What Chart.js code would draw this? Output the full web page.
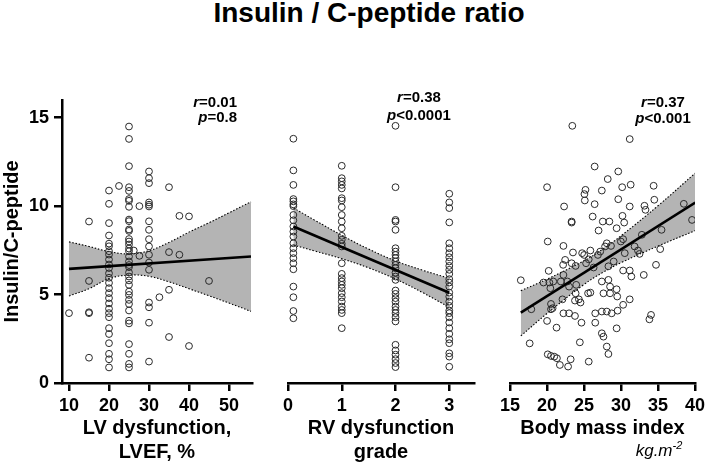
<!DOCTYPE html>
<html>
<head>
<meta charset="utf-8">
<script src="https://cdn.jsdelivr.net/npm/chart.js@4.4.0/dist/chart.umd.min.js"></script>
<style>
html,body{margin:0;padding:0;background:#fff;}
#wrap{position:relative;width:709px;height:476px;overflow:hidden;background:#fff;}
canvas{position:absolute;top:0;}
#title{position:absolute;top:-1px;left:369px;transform:translateX(-50%);font-family:"Liberation Sans",Arial,sans-serif;font-weight:bold;font-size:28px;line-height:28px;white-space:nowrap;color:#000;}
</style>
</head>
<body>
<div id="wrap">
<div id="title">Insulin / C-peptide ratio</div>
<canvas id="c1" style="left:0px" width="262" height="476"></canvas>
<canvas id="c2" style="left:270px" width="214" height="476"></canvas>
<canvas id="c3" style="left:490px" width="219" height="476"></canvas>
</div>
<script>
// ---------- data ----------
const yTicks = [0, 5, 10, 15];
const lvefTicks = [10, 20, 30, 40, 50];
const rvTicks = [0, 1, 2, 3];
const bmiTicks = [15, 20, 25, 30, 35, 40];

// Panel 1: LVEF (%) levels and ratio values at each level
const lvefLevels = [10, 15, 20, 22.5, 25, 26.2, 27.6, 30, 32.6, 35, 37.6, 40, 45];
const lvefValues = [
  [3.95],
  [9.13, 5.77, 4.0, 3.95, 1.43],
  [10.88, 10.13, 9.04, 8.34, 7.88, 7.73, 7.45, 7.26, 6.98, 6.7, 6.5, 6.2, 5.95, 5.66, 5.36, 5.08, 4.8, 4.5, 4.2, 3.95, 3.72, 3.1, 2.77, 2.25, 1.65, 1.34, 0.88],
  [11.14],
  [14.5, 13.8, 12.26, 11.07, 10.86, 10.4, 10.3, 9.96, 9.24, 9.15, 8.68, 8.6, 8.14, 8.0, 7.83, 7.6, 7.45, 7.15, 6.87, 6.67, 6.55, 6.25, 6.02, 5.8, 5.55, 5.17, 4.98, 4.7, 4.47, 4.1, 3.52, 3.37, 2.2, 1.65, 1.08, 0.88],
  [7.49],
  [10.0, 7.19],
  [11.96, 11.58, 11.3, 10.21, 10.08, 9.98, 9.14, 8.66, 8.13, 7.72, 7.25, 6.81, 6.4, 4.55, 4.28, 3.41, 1.21],
  [4.85],
  [11.07, 7.4, 5.27, 2.6],
  [9.45, 7.25],
  [9.42, 2.09],
  [5.77]
];
const lvefFitX = [10, 55.5];
const lvefFitY = [6.45, 7.15];
const lvefBandX = [10, 15, 20, 25, 30, 35, 40, 45, 50, 55.5];
const lvefBandUpper = [7.98, 7.72, 7.43, 7.3, 7.48, 7.95, 8.53, 9.06, 9.62, 10.25];
const lvefBandLower = [4.92, 5.33, 5.9, 6.1, 6.03, 5.72, 5.33, 4.93, 4.52, 4.05];

// Panel 2: RV dysfunction grade
const rvLevels = [0.1, 1, 2, 3];
const rvValues = [
  [13.81, 12.02, 11.2, 10.4, 10.27, 10.1, 10.0, 9.5, 9.2, 8.85, 8.56, 8.28, 7.9, 7.62, 7.34, 7.06, 6.77, 6.43, 5.45, 4.85, 4.07, 3.66],
  [12.28, 11.58, 11.4, 11.2, 11.0, 10.45, 10.32, 9.94, 9.5, 9.13, 8.75, 8.32, 8.1, 7.87, 7.72, 6.77, 6.17, 5.93, 5.74, 5.55, 5.36, 5.08, 4.85, 4.61, 4.32, 4.13, 3.95, 3.1],
  [14.54, 11.07, 9.22, 9.13, 8.66, 7.62, 7.43, 7.24, 7.06, 6.87, 6.68, 6.49, 6.24, 6.02, 5.83, 5.23, 5.04, 4.8, 4.6, 4.32, 4.13, 3.95, 3.72, 3.48, 2.16, 1.84, 1.6, 1.35, 1.13, 0.9],
  [10.7, 10.21, 9.89, 9.08, 7.9, 7.62, 7.34, 7.11, 6.87, 6.62, 6.4, 6.17, 5.87, 5.68, 5.45, 5.11, 4.88, 4.6, 4.36, 4.1, 3.95, 3.72, 3.42, 3.1, 2.78, 2.47, 2.25, 1.68, 1.49, 0.92]
];
const rvFitX = [0.1, 3];
const rvFitY = [8.85, 5.1];
const rvBandX = [0.1, 0.5, 1, 1.5, 2, 2.5, 3];
const rvBandUpper = [9.9, 9.2, 8.35, 7.57, 6.9, 6.38, 5.92];
const rvBandLower = [7.8, 7.46, 7.03, 6.51, 5.88, 5.12, 4.28];

// Panel 3: Body mass index
const bmiX = [23.42,31.18,26.44,29.63,28.21,20.01,25.2,25.06,27.41,30.16,31.31,34.41,22.31,25.11,26.44,29.63,31.18,34.5,33.17,33.31,23.33,23.33,26.17,27.54,28.43,30.2,30.43,29.41,26.97,38.49,39.6,35.48,32.82,30.29,29.98,20.1,22.22,23.51,24.75,25.86,27.19,27.85,28.08,28.65,30.51,31.84,32.29,32.51,35.3,22.45,23.33,23.87,25.02,25.28,25.64,26.3,26.88,28.3,29.01,30.29,31.18,33.08,34.73,31.4,20.23,22.18,16.46,19.52,20.32,20.85,21.87,22.76,20.45,22.22,22.98,23.95,25.55,25.86,27.41,28.3,28.52,29.41,27.63,28.52,29.49,31.18,23.87,24.31,23.78,24.53,17.88,20.54,20.54,20.76,22.09,22.22,22.98,23.78,26.52,27.41,28.08,28.74,29.54,30.29,34.06,33.84,20.01,21.29,24.66,26.52,29.41,27.41,27.63,17.66,24.44,28.08,28.3,20.1,20.54,20.98,21.34,21.74,22.85,23.2,25.64];
const bmiY = [14.54,13.79,12.24,11.96,11.53,11.07,10.92,10.68,10.88,11.07,11.21,11.15,9.98,10.32,10.11,10.39,9.98,10.36,10.02,9.79,9.07,9.13,9.41,9.13,9.13,9.45,9.07,8.75,8.62,10.13,9.22,8.66,8.38,8.13,8.0,8.0,7.75,7.38,7.34,7.49,7.43,7.72,7.9,7.75,7.34,7.72,7.49,7.3,7.57,6.96,6.77,6.62,7.24,6.77,6.99,6.53,7.24,6.6,6.87,6.36,6.36,6.11,6.68,6.02,6.34,6.68,5.81,5.68,5.68,5.74,5.74,5.74,5.36,6.11,5.45,5.55,5.07,5.11,5.74,5.83,5.45,5.3,5.07,5.07,4.89,4.73,5.07,4.73,4.66,4.55,4.17,4.47,4.17,4.23,4.73,3.94,3.94,3.79,3.94,4.04,4.04,3.94,4.09,4.42,3.85,3.6,3.51,3.13,3.41,3.41,3.09,2.81,2.62,2.24,2.3,2.06,1.64,1.62,1.53,1.49,1.4,1.02,0.93,1.34,1.21];
const bmiFitX = [16.46, 40.04];
const bmiFitY = [3.98, 10.2];
const bmiBandX = [16.46, 20, 25, 27.5, 30, 35, 40.04];
const bmiBandUpper = [5.22, 5.87, 6.91, 7.56, 8.32, 10.02, 11.87];
const bmiBandLower = [2.66, 3.93, 5.57, 6.24, 6.8, 7.74, 8.62];

// ---------- helpers ----------
const FONT = "'Liberation Sans', Arial, Helvetica, sans-serif";
Chart.defaults.font.family = FONT;
Chart.defaults.color = '#000';

function pairs(xs, ys) { return xs.map((x, i) => ({ x: x, y: ys[i] })); }
function grouped(levels, values) {
  const out = [];
  levels.forEach((lv, i) => values[i].forEach(v => out.push({ x: lv, y: v })));
  return out;
}

const annotPlugin = {
  id: 'annot',
  afterDraw(chart, args, opts) {
    const ctx = chart.ctx;
    const off = opts.offset || 0;
    ctx.save();
    ctx.fillStyle = '#000';
    ctx.textBaseline = 'alphabetic';
    (opts.lines || []).forEach(line => {
      let w = 0;
      line.parts.forEach(p => { ctx.font = p.font; p.w = ctx.measureText(p.t).width; w += p.w; });
      let x = (line.align === 'right' ? line.x - w : line.align === 'center' ? line.x - w / 2 : line.x) - off;
      line.parts.forEach(p => { ctx.font = p.font; ctx.fillText(p.t, x, line.y + (p.dy || 0)); x += p.w; });
    });
    ctx.restore();
  }
};

const BI = "italic bold 15px " + FONT;
const B = "bold 15px " + FONT;

function xScale(min, max, ticks, title) {
  return {
    type: 'linear', min: min, max: max,
    afterBuildTicks: s => { s.ticks = ticks.map(v => ({ value: v })); },
    afterFit: s => { s.height = 93; },
    border: { display: true, color: '#000', width: 2.5 },
    grid: { display: true, drawOnChartArea: false, drawTicks: true, tickLength: 8, color: '#000', lineWidth: 2.5 },
    ticks: { color: '#000', font: { family: FONT, size: 18, weight: 'bold' }, padding: 4, maxRotation: 0, autoSkip: false },
    title: { display: true, text: title, color: '#000', font: { family: FONT, size: 20, weight: 'bold', lineHeight: 1.2 }, padding: { top: 0, bottom: 12 } }
  };
}
function yScale(show) {
  if (!show) return { type: 'linear', min: 0, max: 16, display: false };
  return {
    type: 'linear', min: 0, max: 16,
    afterBuildTicks: s => { s.ticks = yTicks.map(v => ({ value: v })); },
    afterFit: s => { s.width = 62; },
    border: { display: true, color: '#000', width: 2.5 },
    grid: { display: true, drawOnChartArea: false, drawTicks: true, tickLength: 8, color: '#000', lineWidth: 2.5 },
    ticks: { color: '#000', font: { family: FONT, size: 18, weight: 'bold' }, padding: 5 },
    title: { display: true, text: 'Insulin/C-peptide', color: '#000', font: { family: FONT, size: 20, weight: 'bold', lineHeight: 1.2 }, padding: { top: 0, bottom: 0 } }
  };
}
function datasets(points, fitX, fitY, bandX, bandU, bandL) {
  return [
    { type: 'line', data: pairs(fitX, fitY), borderColor: '#000', borderWidth: 2.6, pointRadius: 0, fill: false, order: 0 },
    { type: 'scatter', data: points, pointRadius: 3.4, pointStyle: 'circle', borderColor: '#2a2a2a', backgroundColor: 'rgba(0,0,0,0)', borderWidth: 1, order: 1 },
    { type: 'line', data: pairs(bandX, bandL), borderColor: '#000', borderWidth: 1.1, borderDash: [1.5, 1.8], pointRadius: 0, fill: false, tension: 0.4, order: 3 },
    { type: 'line', data: pairs(bandX, bandU), borderColor: '#000', borderWidth: 1.1, borderDash: [1.5, 1.8], pointRadius: 0, fill: '-1', backgroundColor: '#b4b4b4', tension: 0.4, order: 2 }
  ];
}
function makeChart(id, offset, padding, xs, showY, ds, annLines) {
  return new Chart(document.getElementById(id), {
    type: 'scatter',
    data: { datasets: ds },
    options: {
      responsive: false, animation: false, devicePixelRatio: 1,
      layout: { padding: padding },
      scales: { x: xs, y: yScale(showY) },
      plugins: {
        legend: { display: false }, tooltip: { enabled: false }, title: { display: false },
        filler: { drawTime: 'beforeDatasetsDraw' },
        annot: { offset: offset, lines: annLines }
      }
    },
    plugins: [annotPlugin]
  });
}

makeChart('c1', 0, { left: 0, right: 10, top: 100, bottom: 0 },
  xScale(8.25, 55.75, lvefTicks, ['LV dysfunction,', 'LVEF, %']), true,
  datasets(grouped(lvefLevels, lvefValues), lvefFitX, lvefFitY, lvefBandX, lvefBandUpper, lvefBandLower),
  [
    { x: 237, y: 106.5, align: 'right', parts: [{ t: 'r', font: BI }, { t: '=0.01', font: B }] },
    { x: 237, y: 121.5, align: 'right', parts: [{ t: 'p', font: BI }, { t: '=0.8', font: B }] }
  ]);

makeChart('c2', 270, { left: 18, right: 10, top: 100, bottom: 0 },
  xScale(0, 3.46, rvTicks, ['RV dysfunction', 'grade']), false,
  datasets(grouped(rvLevels, rvValues), rvFitX, rvFitY, rvBandX, rvBandUpper, rvBandLower),
  [
    { x: 419, y: 101.5, align: 'center', parts: [{ t: 'r', font: BI }, { t: '=0.38', font: B }] },
    { x: 419, y: 120, align: 'center', parts: [{ t: 'p', font: BI }, { t: '<0.0001', font: B }] }
  ]);

makeChart('c3', 490, { left: 20, right: 11, top: 100, bottom: 0 },
  xScale(15, 40, bmiTicks, ['Body mass index', ' ']), false,
  datasets(pairs(bmiX, bmiY), bmiFitX, bmiFitY, bmiBandX, bmiBandUpper, bmiBandLower),
  [
    { x: 663, y: 106.5, align: 'center', parts: [{ t: 'r', font: BI }, { t: '=0.37', font: B }] },
    { x: 663, y: 123, align: 'center', parts: [{ t: 'p', font: BI }, { t: '<0.001', font: B }] },
    { x: 659, y: 456, align: 'center', parts: [{ t: 'kg.m', font: "italic 17px " + FONT }, { t: '-2', font: "italic 11px " + FONT, dy: -7 }] }
  ]);
</script>
</body>
</html>
